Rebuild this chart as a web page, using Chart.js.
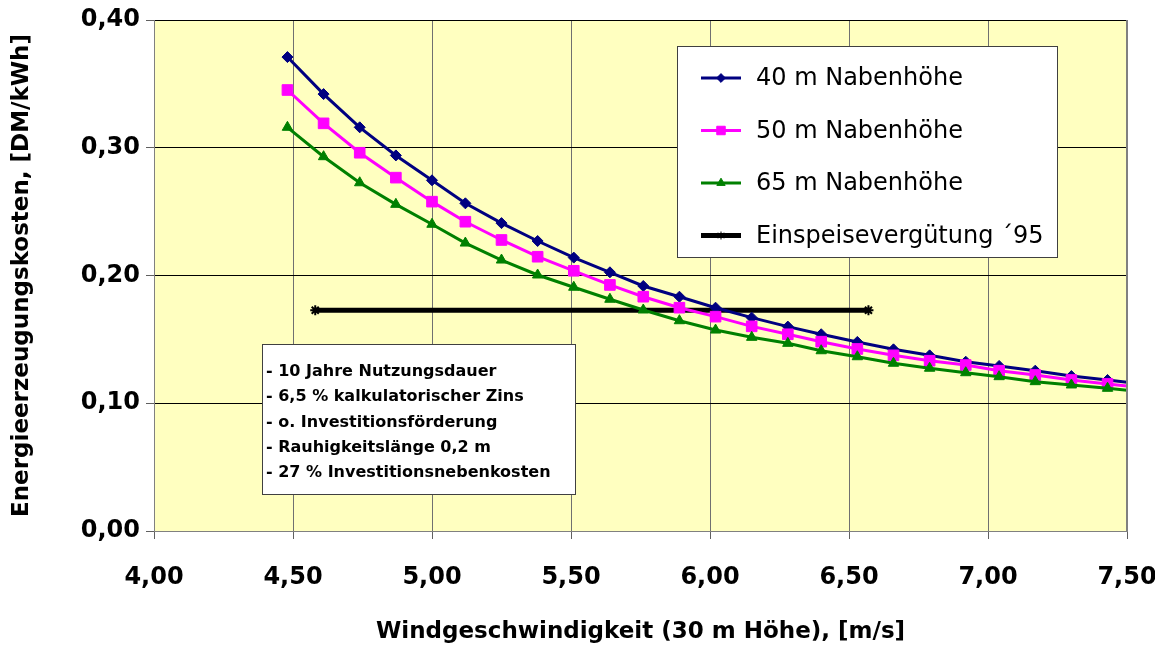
<!DOCTYPE html>
<html>
<head>
<meta charset="utf-8">
<script src="https://cdn.jsdelivr.net/npm/chart.js@4/dist/chart.umd.min.js"></script>
<style>
  body { margin: 0; background: #fff; }
  #wrap { width: 1155px; height: 646px; position: relative; }
</style>
</head>
<body>
<div id="wrap"><canvas id="costChart"></canvas></div>
<script>
// wind speed at 30 m height [m/s]
const windSpeed = [4.48, 4.61, 4.74, 4.87, 5.00, 5.12, 5.25, 5.38, 5.51, 5.64, 5.76, 5.89, 6.02,
                   6.15, 6.28, 6.40, 6.53, 6.66, 6.79, 6.92, 7.04, 7.17, 7.30, 7.43, 7.56];
// Energieerzeugungskosten [DM/kWh]
const cost40 = [0.371, 0.342, 0.316, 0.294, 0.2745, 0.2565, 0.241, 0.227, 0.214, 0.2025, 0.1918, 0.1834, 0.1748,
                0.167, 0.160, 0.154, 0.148, 0.1422, 0.1375, 0.1325, 0.1292, 0.1255, 0.1213, 0.1182, 0.115];
const cost50 = [0.3452, 0.3191, 0.2961, 0.2766, 0.2578, 0.2421, 0.2278, 0.2147, 0.2037, 0.1926, 0.1834, 0.1748, 0.1678,
                0.1602, 0.154, 0.1482, 0.1425, 0.1375, 0.1333, 0.1299, 0.1255, 0.1221, 0.1182, 0.1151, 0.112];
const cost65 = [0.316, 0.293, 0.2726, 0.2557, 0.2401, 0.2254, 0.2121, 0.2004, 0.1908, 0.1814, 0.1730, 0.1646, 0.1573,
                0.1516, 0.1469, 0.1411, 0.1364, 0.1313, 0.1274, 0.1239, 0.1208, 0.1169, 0.1143, 0.1117, 0.1089];
// Einspeisevergütung 1995
const feedInSpeed = [4.58, 6.57];
const feedInValue = [0.1728, 0.1728];

const seriesLabels = ['40 m Nabenhöhe', '50 m Nabenhöhe', '65 m Nabenhöhe', 'Einspeisevergütung ´95'];
const noteLines = ['- 10 Jahre Nutzungsdauer', '- 6,5 % kalkulatorischer Zins', '- o. Investitionsförderung',
                   '- Rauhigkeitslänge 0,2 m', '- 27 % Investitionsnebenkosten'];

const toPoints = (xs, ys) => xs.map((x, i) => ({ x: x, y: ys[i] }));
const fmt = (v) => Number(v).toFixed(2).replace('.', ',');

Chart.defaults.font.family = "'DejaVu Sans', sans-serif";
Chart.defaults.color = '#000';

const plotBg = {
    id: 'plotBg',
    beforeDraw(chart) {
        const { ctx, chartArea: a } = chart;
        ctx.save();
        ctx.fillStyle = '#ffffc0';
        ctx.fillRect(a.left, a.top, a.right - a.left, a.bottom - a.top);
        ctx.restore();
    },
    afterDatasetsDraw(chart) {
        const { ctx, chartArea: a } = chart;
        ctx.save();
        ctx.strokeStyle = '#808080';
        ctx.lineWidth = 2;
        ctx.beginPath();
        ctx.moveTo(a.right, a.top);
        ctx.lineTo(a.right, a.bottom);
        ctx.stroke();
        ctx.restore();
    }
};

// legend + note box drawn inside the plot like the original
const boxes = {
    id: 'boxes',
    afterDraw(chart) {
        const ctx = chart.ctx;
        ctx.save();
        // legend
        ctx.fillStyle = '#fff';
        ctx.fillRect(677, 46, 380, 211);
        ctx.strokeStyle = '#404040';
        ctx.lineWidth = 1;
        ctx.strokeRect(677.5, 46.5, 380, 211);
        chart.data.datasets.forEach((ds, i) => {
            const y = 78 + i * 52.5;
            ctx.strokeStyle = ds.borderColor;
            ctx.lineWidth = ds.borderWidth;
            ctx.beginPath();
            ctx.moveTo(701, y);
            ctx.lineTo(741, y);
            ctx.stroke();
            ctx.fillStyle = ds.pointBackgroundColor;
            ctx.strokeStyle = ds.pointBorderColor;
            ctx.lineWidth = 1;
            Chart.helpers.drawPoint(ctx, { pointStyle: ds.pointStyle, radius: ds.pointRadius * 0.8, rotation: 0, borderWidth: ds.pointBorderWidth }, 721, y);
            ctx.fillStyle = '#000';
            ctx.font = "24px 'DejaVu Sans'";
            ctx.textBaseline = 'middle';
            ctx.textAlign = 'left';
            ctx.fillText(ds.label, 756, y + 1);
        });
        // notes
        ctx.fillStyle = '#fff';
        ctx.fillRect(262, 344, 313, 150);
        ctx.strokeStyle = '#404040';
        ctx.strokeRect(262.5, 344.5, 313, 150);
        ctx.fillStyle = '#000';
        ctx.font = "bold 16px 'DejaVu Sans'";
        ctx.textBaseline = 'middle';
        noteLines.forEach((t, i) => ctx.fillText(t, 266, 372 + i * 25.3));
        ctx.restore();
    }
};

new Chart(document.getElementById('costChart'), {
    type: 'line',
    data: {
        datasets: [
            { label: seriesLabels[0], data: toPoints(windSpeed, cost40), borderColor: '#000080', backgroundColor: '#000080',
              pointBackgroundColor: '#000080', pointBorderColor: '#000080', pointStyle: 'rectRot', pointRadius: 5.5, pointBorderWidth: 1,
              borderWidth: 3, order: 2 },
            { label: seriesLabels[1], data: toPoints(windSpeed, cost50), borderColor: '#ff00ff', backgroundColor: '#ff00ff',
              pointBackgroundColor: '#ff00ff', pointBorderColor: '#ff00ff', pointStyle: 'rect', pointRadius: 7.5, pointBorderWidth: 1,
              borderWidth: 3, order: 1 },
            { label: seriesLabels[2], data: toPoints(windSpeed, cost65), borderColor: '#008000', backgroundColor: '#008000',
              pointBackgroundColor: '#008000', pointBorderColor: '#008000', pointStyle: 'triangle', pointRadius: 6, pointBorderWidth: 1,
              borderWidth: 3, order: 0 },
            { label: seriesLabels[3], data: toPoints(feedInSpeed, feedInValue), borderColor: '#000', backgroundColor: '#000',
              pointBackgroundColor: '#000', pointBorderColor: '#000', pointStyle: 'star', pointRadius: 5, pointBorderWidth: 2,
              borderWidth: 5, order: 3 }
        ]
    },
    options: {
        responsive: true,
        maintainAspectRatio: false,
        animation: false,
        clip: 0,
        layout: { padding: { top: 20, right: 28, left: 0, bottom: 0 } },
        elements: { line: { tension: 0 } },
        plugins: { legend: { display: false }, tooltip: { enabled: false } },
        scales: {
            x: {
                type: 'linear', min: 4, max: 7.5,
                ticks: { stepSize: 0.5, padding: 24, maxRotation: 0, font: { size: 24, weight: 'bold' }, callback: fmt },
                grid: { color: '#707070', lineWidth: 1, tickLength: 8, tickColor: '#606060' },
                border: { color: '#808080', width: 1 },
                title: { display: true, text: 'Windgeschwindigkeit (30 m Höhe), [m/s]', font: { size: 23, weight: 'bold' }, padding: { top: 0, bottom: 0 } },
                afterFit(s) { s.height = 115; s.paddingLeft = 0; s.paddingRight = 0; }
            },
            y: {
                min: 0, max: 0.4,
                ticks: { stepSize: 0.1, padding: 6, font: { size: 24, weight: 'bold' }, callback: fmt },
                grid: { color: '#000', lineWidth: 1, tickLength: 8, tickColor: '#606060' },
                border: { color: '#808080', width: 1 },
                title: { display: true, text: 'Energieerzeugungskosten, [DM/kWh]', font: { size: 23, weight: 'bold' }, padding: { top: 8, bottom: 0 } },
                afterFit(s) { s.width = 154; s.paddingTop = 0; s.paddingBottom = 0; }
            }
        }
    },
    plugins: [plotBg, boxes]
});
</script>
</body>
</html>
